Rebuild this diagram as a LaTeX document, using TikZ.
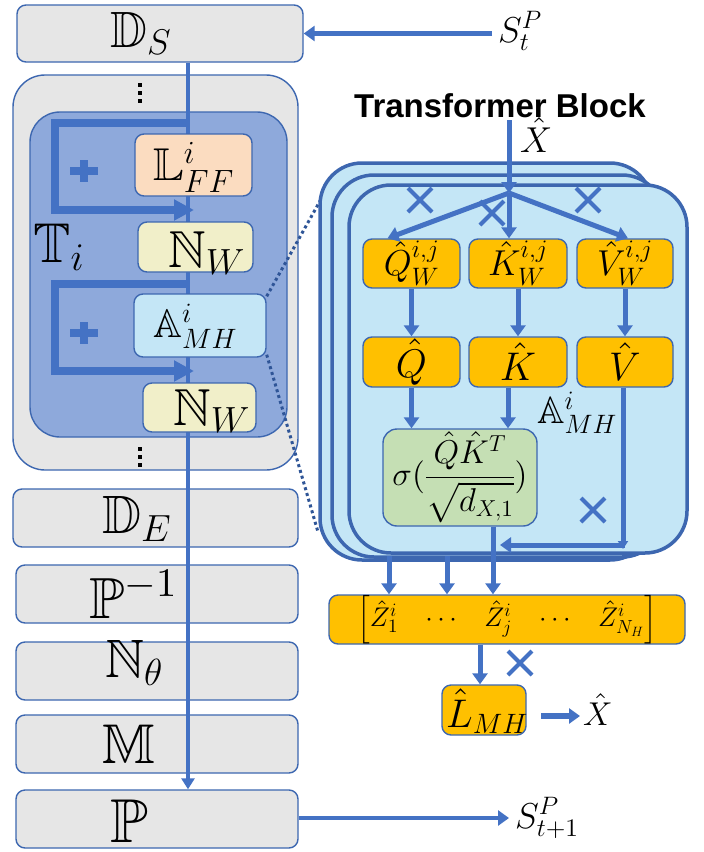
\documentclass[tikz,border=0pt]{standalone}
\usepackage{amsmath,amssymb}
\usepackage{fontspec}
\DeclareFontShape{OML}{cmm}{m}{it}{<-7.5>cmmi7<7.5-11>cmmi10<11->cmmi12}{}
\DeclareFontShape{OMS}{cmsy}{m}{n}{<-7.5>cmsy7<7.5->cmsy10}{}
\DeclareFontShape{OMX}{cmex}{m}{n}{<->cmex10}{}
\DeclareFontShape{OT1}{cmr}{m}{n}{<-7.5>cmr7<7.5->cmr10}{}
\newfontfamily\tbfont{Liberation Sans}
\usetikzlibrary{arrows.meta,calc}
\definecolor{bord}{HTML}{3D67B0}
\definecolor{arr}{HTML}{4472C4}
\definecolor{lgray}{HTML}{E6E6E6}
\definecolor{tblue}{HTML}{8EA9DB}
\definecolor{peach}{HTML}{FBDCC0}
\definecolor{lyellow}{HTML}{F1EFC9}
\definecolor{lblue}{HTML}{C4E6F6}
\definecolor{gold}{HTML}{FFC000}
\definecolor{lgreen}{HTML}{C5DFB4}
\definecolor{dotc}{HTML}{2F5597}
\newcommand{\fsz}[1]{\fontsize{#1}{#1}\selectfont}
\begin{document}
\begin{tikzpicture}[x=1pt,y=-1pt,
  rbox/.style={draw=bord, line width=1.4pt, rounded corners=9pt, inner sep=0pt, anchor=center},
  gbox/.style={rbox, fill=gold},
  stk/.style={draw=bord, line width=3.5pt, fill=lblue, rounded corners=42pt, inner sep=0pt},
  txt/.style={inner sep=0pt, anchor=base west},
  mainln/.style={draw=arr, line width=4pt, -{Triangle[length=11pt,width=13pt]}},
  skip/.style={draw=arr, line width=8pt, -{Triangle[length=20pt,width=20pt]}},
  flow/.style={draw=arr, line width=5pt, -{Triangle[length=11pt,width=15pt]}},
  xmark/.style={draw=arr, line width=4pt},
  plusmark/.style={draw=arr, line width=8pt},
  dotln/.style={draw=dotc, line width=3pt, dash pattern=on 3pt off 3pt}
]
\useasboundingbox (0,0) rectangle (704,852);
\fill[white] (0,0) rectangle (704,852);

% ---------- left column ----------
\node[rbox, fill=lgray, minimum width=286pt, minimum height=57pt] (ds) at (160,33.5) {};
\node[rbox, fill=lgray, minimum width=285pt, minimum height=58pt] (de) at (155.5,518) {};
\node[rbox, fill=lgray, minimum width=282pt, minimum height=58pt] (pinv) at (157,594) {};
\node[rbox, fill=lgray, minimum width=282pt, minimum height=58pt] (nth) at (157,671) {};
\node[rbox, fill=lgray, minimum width=282pt, minimum height=58pt] (mm) at (157,744) {};
\node[rbox, fill=lgray, minimum width=282pt, minimum height=58pt] (pp) at (157,819) {};

\node[rbox, fill=lgray, rounded corners=32pt, minimum width=285pt, minimum height=395pt] (tout) at (155.5,272.5) {};
\node[rbox, fill=tblue, rounded corners=30pt, minimum width=257pt, minimum height=325pt] (tin) at (158.5,274.5) {};

\foreach \yy in {85,93,101,449,457,465} \fill[black] (138,\yy-2) rectangle (142,\yy+2);

\coordinate (mx) at (188,0);
\draw[mainln] (ds.south -| mx) -- (pp.north -| mx);

% residual paths
\coordinate (r1s) at (188,123);
\coordinate (r1e) at (194,210);
\coordinate (r2s) at (188,284);
\coordinate (r2e) at (194,371);
\draw[skip] (r1s) -- (55,123) -- (55,210) -- (r1e);
\draw[skip] (r2s) -- (55,284) -- (55,371) -- (r2e);
\draw[plusmark] (70,171) -- (98,171) (84,160) -- (84,182);
\draw[plusmark] (70,333) -- (98,333) (84,322) -- (84,344);

\node[rbox, fill=peach, minimum width=117pt, minimum height=62pt] (lff) at (193.5,165) {};
\node[rbox, fill=lyellow, minimum width=115pt, minimum height=50pt] (nw1) at (195.5,247) {};
\node[rbox, fill=lblue, minimum width=132pt, minimum height=63pt] (amh) at (200,325.5) {};
\node[rbox, fill=lyellow, minimum width=113pt, minimum height=49pt] (nw2) at (199.5,407.5) {};

\node[txt] (dst) at (110,47) {\fsz{51}$\mathbb{D}_S$};
\node[txt] (tit) at (33,262) {\fsz{56}$\mathbb{T}_i$};
\node[txt] (lfft) at (153,180) {\fsz{46}$\mathbb{L}^i_{FF}$};
\node[txt] (nw1t) at (168,267) {\fsz{52}$\mathbb{N}_W$};
\node[txt] (amht) at (153,337) {\fsz{40}$\mathbb{A}^i_{MH}$};
\node[txt] (nw2t) at (173,425) {\fsz{52}$\mathbb{N}_W$};
\node[txt] (det) at (102,533) {\fsz{54}$\mathbb{D}_E$};
\node[txt] (pinvt) at (89,618) {\fsz{58}$\mathbb{P}^{-1}$};
\node[txt] (ntht) at (105,677) {\fsz{54}$\mathbb{N}_\theta$};
\node[txt] (mmt) at (102,763) {\fsz{56}$\mathbb{M}$};
\node[txt] (ppt) at (110,842) {\fsz{62}$\mathbb{P}$};

% state arrows
\node[txt] (st) at (498,42) {\fsz{36}$S_t^P$};
\node[txt] (st1) at (515,828) {\fsz{36}$S_{t+1}^P$};
\coordinate (stin) at (492,33.5);
\draw[flow, line width=4.5pt] (stin) -- (ds.east);
\coordinate (st1in) at (509,818);
\draw[flow, line width=4.5pt] (pp.east |- st1in) -- (st1in);

% dotted zoom lines
\coordinate (dz1) at (334,176);
\coordinate (dz2) at (318,532);
\draw[dotln] (amh.north east) ++(0,3) -- (dz1);
\draw[dotln] (amh.south east) ++(0,-3) -- (dz2);

% ---------- transformer block ----------
\node[anchor=base, inner sep=0pt] (tbt) at (500,117) {\fsz{33}\tbfont\bfseries Transformer Block};

\node[stk, minimum width=332pt, minimum height=397pt] (s3) at (486,361.5) {};
\node[stk, minimum width=332pt, minimum height=382pt] (s2) at (498,366) {};
\node[stk, minimum width=338pt, minimum height=368pt] (s1) at (518,369) {};

\node[txt] (xin) at (520,152) {\fsz{36}$\hat{X}$};
\coordinate (xtop) at (509,120);
\coordinate (xj) at (509,193);

\node[gbox, minimum width=97pt, minimum height=49pt] (qw) at (411.5,263.5) {\fsz{36}$\hat{Q}^{i,j}_W$};
\node[gbox, minimum width=98pt, minimum height=49pt] (kw) at (518,263.5) {\fsz{36}$\hat{K}^{i,j}_W$};
\node[gbox, minimum width=96pt, minimum height=49pt] (vw) at (625,263.5) {\fsz{36}$\hat{V}^{i,j}_W$};
\node[gbox, minimum width=97pt, minimum height=50pt] (qh) at (411.5,362) {\fsz{40}$\hat{Q}$};
\node[gbox, minimum width=98pt, minimum height=50pt] (kh) at (518,362) {\fsz{40}$\hat{K}$};
\node[gbox, minimum width=96pt, minimum height=50pt] (vh) at (625,362) {\fsz{40}$\hat{V}$};
\node[rbox, fill=lgreen, rounded corners=14pt, minimum width=154pt, minimum height=97pt] (sig) at (460,477.5)
  {\fsz{33}$\sigma(\dfrac{\hat{Q}\hat{K}^T}{\sqrt{d_{X,1}}})$};
\node[txt] (amh2) at (537,423) {\fsz{38}$\mathbb{A}^i_{MH}$};

\draw[flow] (xtop) -- (xj);
\draw[flow] (xj) -- ($(qw.north)+(-24,0)$);
\draw[flow] (xj) -- (xj |- kw.north);
\draw[flow] (xj) -- ($(vw.north)+(3,0)$);
\draw[flow] (qw.south) -- (qh.north);
\draw[flow] (kw.south) -- (kh.north);
\draw[flow] (vw.south) -- (vh.north);
\draw[flow] (qh.south) -- (qh.south |- sig.north);
\draw[flow] ($(kh.south)+(-10,0)$) -- ($(kh.south |- sig.north)+(-10,0)$);
\coordinate (vc) at (623,545);
\coordinate (vl) at (500,545);
\draw[flow, -{Triangle[length=8pt,width=10pt]}] ($(vh.south)+(-2,0)$) -- ($(vc)+(0,4)$);
\draw[flow] (625,545) -- (vl);

\foreach \cx/\cy in {420/200, 492/213, 588/200, 593/510} {
  \draw[xmark] (\cx-12,\cy-12) -- (\cx+12,\cy+12) (\cx-12,\cy+12) -- (\cx+12,\cy-12);
}

% ---------- concatenation ----------
\node[gbox, minimum width=356pt, minimum height=49pt] (zb) at (507,619.5)
  {\fsz{27}$\left[\hat{Z}^i_1\hspace{0.85em}\cdots\hspace{0.85em}\hat{Z}^i_j\hspace{0.85em}\cdots\hspace{0.85em}\hat{Z}^i_{N_H}\right]$};
\draw[flow] (389,556) -- (389,556 |- zb.north);
\draw[flow] (447,556) -- (447,556 |- zb.north);
\draw[flow] (493,0 |- sig.south) -- (493,0 |- zb.north);

\node[gbox, minimum width=84pt, minimum height=50pt] (lmh) at (484,710) {};
\node[txt] (lmht) at (446,727) {\fsz{40}$\hat{L}_{MH}$};
\draw[flow] (480,0 |- zb.south) -- (480,0 |- lmh.north);
\draw[xmark] (508,651) -- (532,675) (508,675) -- (532,651);

\node[txt] (xout) at (583,725) {\fsz{33}$\hat{X}$};
\coordinate (la) at (541,716);
\coordinate (lb) at (580,716);
\draw[flow, line width=6pt] (la) -- (lb);
\end{tikzpicture}
\end{document}
